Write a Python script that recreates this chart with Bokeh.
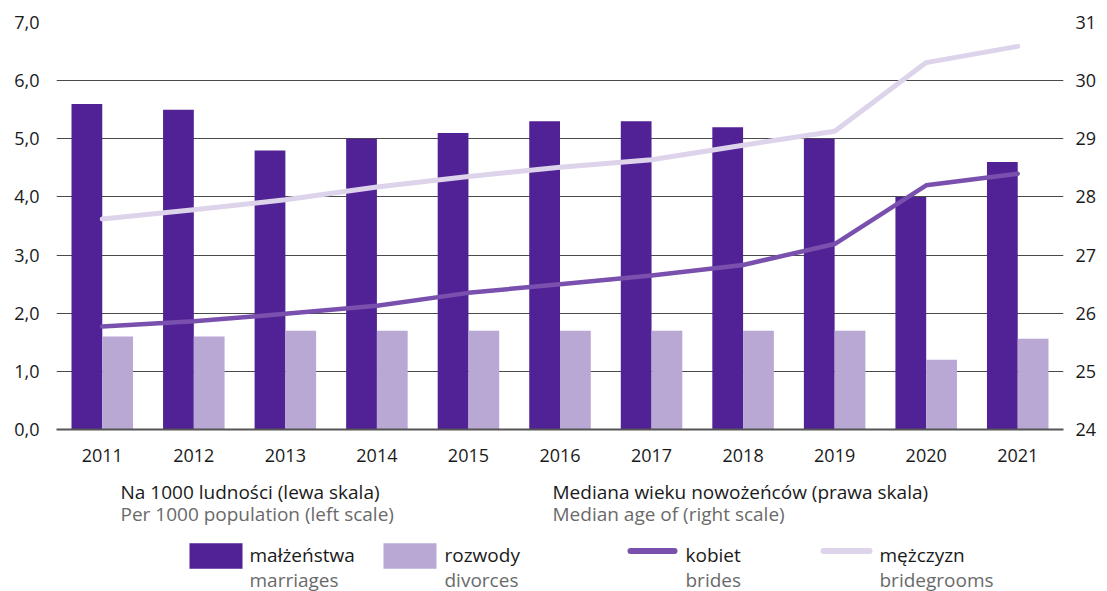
from bokeh.plotting import figure
from bokeh.models import Range1d, LinearAxis, FixedTicker, FactorRange, ColumnDataSource, CustomJSTickFormatter
from bokeh.transform import dodge
from bokeh.layouts import column
from bokeh.embed import file_html
from bokeh.resources import INLINE
from bokeh.core.properties import value

# ---------------- data ----------------
years = ["2011", "2012", "2013", "2014", "2015", "2016", "2017", "2018", "2019", "2020", "2021"]
marriages = [5.6, 5.5, 4.8, 5.0, 5.1, 5.3, 5.3, 5.2, 5.0, 4.0, 4.6]
divorces = [1.6, 1.6, 1.7, 1.7, 1.7, 1.7, 1.7, 1.7, 1.7, 1.2, 1.56]
brides_age = [25.77, 25.86, 25.99, 26.13, 26.35, 26.5, 26.65, 26.83, 27.19, 28.2, 28.4]
grooms_age = [27.62, 27.78, 27.95, 28.17, 28.35, 28.51, 28.64, 28.89, 29.13, 30.31, 30.59]
left_ticks = [0, 1, 2, 3, 4, 5, 6, 7]
right_ticks = [24, 25, 26, 27, 28, 29, 30, 31]

header_pl = ["Na 1000 ludności (lewa skala)", "Mediana wieku nowożeńców (prawa skala)"]
header_en = ["Per 1000 population (left scale)", "Median age of (right scale)"]
legend_pl = ["małżeństwa", "rozwody", "kobiet", "mężczyzn"]
legend_en = ["marriages", "divorces", "brides", "bridegrooms"]

C_MAR = "#512295"
C_DIV = "#b8a8d3"
C_BRI = "#7a50ae"
C_GRO = "#ddd3ea"
FONT = "Open Sans"
DARK = "#1a1a1a"
GRAY = "#6a6a6a"

W = 1107
BL, BR = 56, 44

src = ColumnDataSource(dict(year=years, marriages=marriages, divorces=divorces,
                            brides=brides_age, grooms=grooms_age))

# ---------------- main chart ----------------
p = figure(x_range=FactorRange(factors=years), y_range=Range1d(0, 7),
           width=W, height=474, output_backend="svg", toolbar_location=None,
           min_border_left=BL, min_border_right=BR, min_border_top=22, min_border_bottom=45)
p.extra_y_ranges = {"age": Range1d(24, 31)}
p.outline_line_color = None
p.background_fill_color = "white"
p.border_fill_color = "white"

lt = FixedTicker(ticks=left_ticks)
yax = p.yaxis[0]
yax.ticker = lt
yax.formatter = CustomJSTickFormatter(code="return tick.toFixed(1).replace('.', ',')")
p.ygrid[0].ticker = lt
p.ygrid.grid_line_color = "#4a4a4a"
p.ygrid.grid_line_width = 1
p.xgrid.grid_line_color = None

rax = LinearAxis(y_range_name="age", ticker=FixedTicker(ticks=right_ticks))
p.add_layout(rax, "right")

for ax in [yax, rax]:
    ax.axis_line_color = None
    ax.major_tick_line_color = None
    ax.minor_tick_line_color = None
    ax.major_tick_out = 0
    ax.major_label_text_font = FONT
    ax.major_label_text_font_size = "18px"
    ax.major_label_text_color = DARK
yax.major_label_standoff = 17
rax.major_label_standoff = 12

xa = p.xaxis[0]
xa.axis_line_color = "#555555"
xa.axis_line_width = 2
xa.major_tick_line_color = None
xa.major_tick_out = 0
xa.major_label_standoff = 19
xa.major_label_text_font = FONT
xa.major_label_text_font_size = "18px"
xa.major_label_text_color = DARK

p.vbar(x=dodge("year", -0.168, range=p.x_range), top="marriages", width=0.336,
       source=src, fill_color=C_MAR, line_color=None)
p.vbar(x=dodge("year", 0.168, range=p.x_range), top="divorces", width=0.336,
       source=src, fill_color=C_DIV, line_color=None)
p.line(x="year", y="grooms", source=src, y_range_name="age", line_color=C_GRO,
       line_width=5, line_cap="round", line_join="round")
p.line(x="year", y="brides", source=src, y_range_name="age", line_color=C_BRI,
       line_width=4.5, line_cap="round", line_join="round")

# ---------------- legend panel (x in page pixels, y in pixels from panel top) ----------------
H = 117
lg = figure(width=W, height=H, x_range=Range1d(BL, W - BR), y_range=Range1d(H, 0),
            output_backend="svg", toolbar_location=None,
            min_border_left=BL, min_border_right=BR, min_border_top=0, min_border_bottom=0,
            x_axis_location=None, y_axis_location=None)
lg.grid.visible = False
lg.outline_line_color = None
lg.background_fill_color = "white"
lg.border_fill_color = "white"

lg.quad(left=[189, 383], right=[242, 436], top=[68.7, 68.7], bottom=[94.3, 94.3],
        fill_color=[C_MAR, C_DIV], line_color=None)
lg.multi_line(xs=[[630, 674], [823, 869]], ys=[[76.5, 76.5], [76.5, 76.5]],
              line_color=[C_BRI, C_GRO], line_width=6, line_cap="round")

tx = [120, 552, 120, 552, 249, 444, 685, 879, 249, 444, 685, 879]
ty = [17, 17, 39, 39, 80, 80, 80, 80, 105, 105, 105, 105]
tt = header_pl + header_en + legend_pl + legend_en
tc = [DARK, DARK, GRAY, GRAY] + [DARK] * 4 + [GRAY] * 4
lsrc = ColumnDataSource(dict(x=tx, y=ty, t=tt, c=tc))
lg.text(x="x", y="y", text="t", text_color="c", source=lsrc,
        text_font=value(FONT), text_font_size="19px", text_baseline="alphabetic")

layout = column(p, lg, spacing=0)
open("out.html", "w").write(file_html(layout, INLINE))
